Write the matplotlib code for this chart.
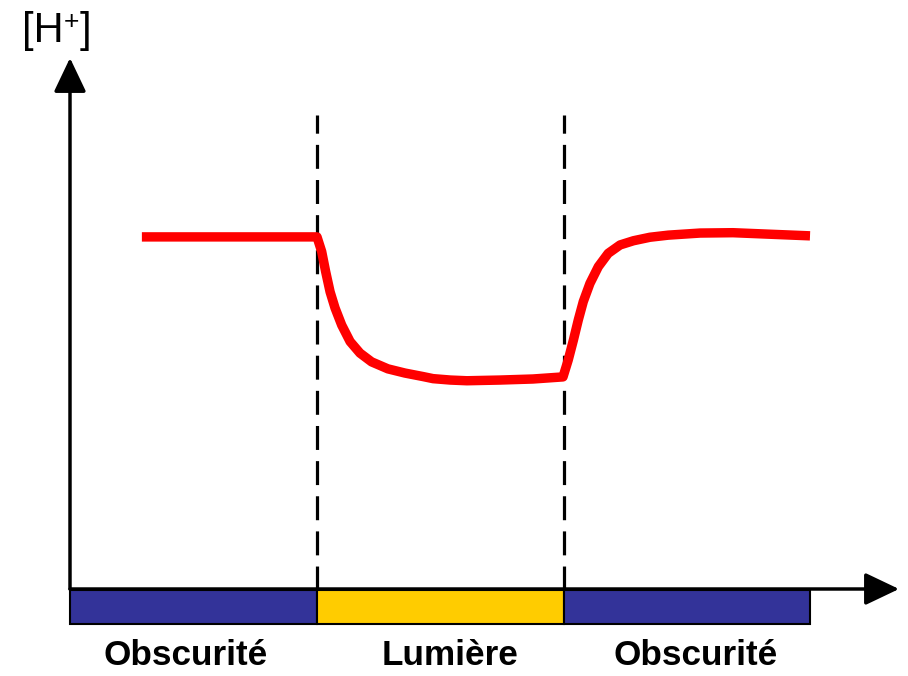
import numpy as np
import matplotlib
matplotlib.use('Agg')
import matplotlib.pyplot as plt

plt.rcParams['font.family'] = ['Liberation Sans', 'DejaVu Sans']

# phases (time in units of one phase)
phases = ['Obscurité', 'Lumière', 'Obscurité']
phase_start = [0.0, 1.0, 2.0]
phase_end = [1.0, 2.0, 2.996]
phase_colors = ['#333399', '#FFCC00', '#333399']
label_x = [0.47, 1.54, 2.533]

# [H+] during each phase
t_dark1 = [0.291, 1.0]
h_dark1 = [1.006, 1.006]
t_light = [1.0, 1.019, 1.035, 1.053, 1.073, 1.100, 1.134, 1.174, 1.221, 1.287,
           1.356, 1.429, 1.470, 1.540, 1.607, 1.741, 1.874, 1.996]
h_light = [1.006, 0.964, 0.907, 0.849, 0.803, 0.754, 0.707, 0.674, 0.649, 0.629,
           0.617, 0.607, 0.601, 0.597, 0.595, 0.597, 0.600, 0.606]
t_dark2 = [1.996, 2.017, 2.038, 2.058, 2.078, 2.105, 2.139, 2.179, 2.227, 2.281,
           2.348, 2.422, 2.551, 2.684, 2.822, 2.996]
h_dark2 = [0.606, 0.654, 0.711, 0.769, 0.821, 0.873, 0.921, 0.959, 0.983, 0.995,
           1.005, 1.011, 1.017, 1.018, 1.014, 1.009]

fig = plt.figure(figsize=(9.08, 6.76), dpi=100)
ax = fig.add_axes([0, 0, 1, 1])
ax.set_axis_off()
ax.set_xlim(-70 / 247, 838 / 247)
ax.set_ylim(-87 / 350, 589 / 350)

# phase bars under the time axis
for s, e, c in zip(phase_start, phase_end, phase_colors):
    ax.fill([s, e, e, s], [-0.003, -0.003, -0.1, -0.1], facecolor=c,
            edgecolor='black', linewidth=1.5, zorder=2)
for name, x in zip(phases, label_x):
    ax.text(x, -0.19, name, ha='center', va='center', fontsize=25.3,
            fontweight='bold', color='black')

# axes with arrow heads
arrow = dict(arrowstyle='-|>,head_length=1.05,head_width=0.5', lw=2.5,
             color='black', mutation_scale=20, shrinkA=0, shrinkB=0)
ax.annotate('', xy=(0.0, 531 / 350), xytext=(0.0, 0.0), arrowprops=arrow, zorder=4)
ax.annotate('', xy=(829 / 247, 0.0), xytext=(0.0, 0.0), arrowprops=arrow, zorder=4)

# switch between dark and light
for x in [1.0, 2.0]:
    ax.plot([x, x], [-0.003, 1.354], color='black', lw=2.3,
            linestyle=(0, (7.5, 3.5)), zorder=3)

t = t_dark1 + t_light[1:] + t_dark2[1:]
h = h_dark1 + h_light[1:] + h_dark2[1:]
ax.plot(t, h, color='#FF0000', lw=6.8, solid_joinstyle='round',
        solid_capstyle='butt', zorder=5)

# axis title [H+]
ax.text(-0.196, 1.594, '[H', ha='left', va='center', fontsize=30)
ax.text(0.004, 1.620, '+', ha='center', va='center', fontsize=19)
ax.text(0.04, 1.594, ']', ha='left', va='center', fontsize=30)

fig.savefig('out.png', dpi=100)
